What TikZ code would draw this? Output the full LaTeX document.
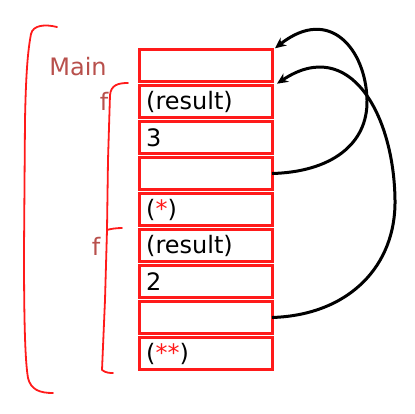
\documentclass[tikz,border=0pt]{standalone}
\usepackage{fontspec}
\setmainfont{DejaVu Sans}
\usetikzlibrary{arrows.meta}
\definecolor{boxred}{HTML}{FF1A1A}
\definecolor{labred}{HTML}{B8504C}
\begin{document}
\begin{tikzpicture}[x=1pt,y=-1pt,
  cell/.style={draw=boxred,line width=3pt,minimum width=133pt,minimum height=32.4pt,inner sep=0pt,outer sep=0pt},
  celltext/.style={anchor=west,font=\fontsize{24}{28}\selectfont,inner sep=0pt},
  arr/.style={draw=black,line width=3pt,-{Stealth[length=11pt,width=10pt]}},
  brace/.style={draw=boxred,line width=1.8pt,line cap=round,line join=round},
  lab/.style={text=labred,font=\fontsize{24}{28}\selectfont,inner sep=0pt}]
\useasboundingbox (0,0) rectangle (415,413);
\foreach \i in {1,...,9}{
  \node[cell] (c\i) at (205.5,{47.5+36*(\i-1)+18}) {};
}
\node[celltext] (t2) at (146,102) {(result)};
\node[celltext] (t3) at (146,138) {3};
\node[celltext] (t5) at (146,210) {(\textcolor{boxred}{*})};
\node[celltext] (t6) at (146,246) {(result)};
\node[celltext] (t7) at (146,282) {2};
\node[celltext] (t9) at (146,354) {(\textcolor{boxred}{**})};
\node[lab] (main) at (78,67) {Main};
\node[lab] (f1) at (104,101) {f};
\node[lab] (f2) at (96,246) {f};
% braces
\draw[brace] (57,27) .. controls (45,24) and (33,25) .. (31,34) .. controls (28,50) and (26,70) .. (25,120) -- (24,250) .. controls (24,320) and (25,360) .. (28,378) .. controls (31,390) and (40,393) .. (53,393);
\draw[brace] (128,83) .. controls (118,83) and (111,85) .. (110,95) -- (108,160) -- (107,230) .. controls (110,229) and (116,228) .. (122,228);
\draw[brace] (107,230) -- (105,300) -- (102,370) .. controls (106,373) and (110,373) .. (113,373);
% arrows
\draw[arr] (c4.east) .. controls (330,172) and (368,145) .. (367,100) .. controls (366,50) and (330,5) .. ([xshift=3pt,yshift=1pt]c1.north east);
\draw[arr] (c8.east) .. controls (350,315) and (396,265) .. (395,200) .. controls (394,115) and (350,35) .. ([xshift=5pt,yshift=-2pt]c1.south east);
\end{tikzpicture}
\end{document}
